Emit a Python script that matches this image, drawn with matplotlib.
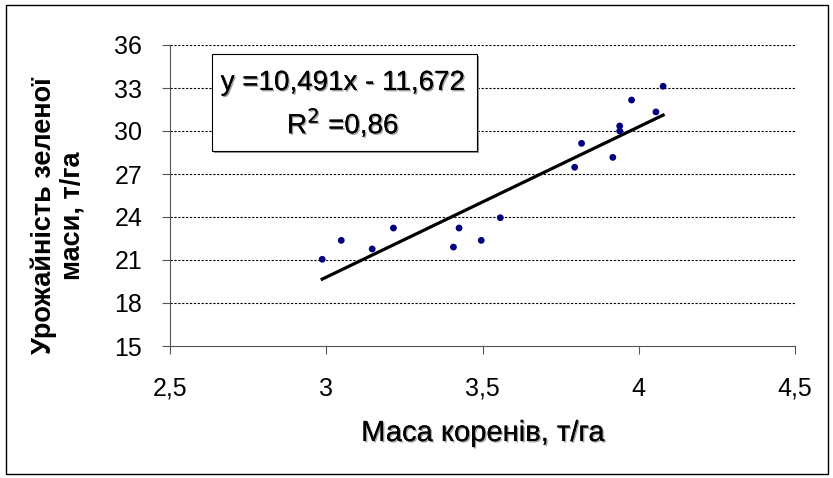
import matplotlib
matplotlib.use("Agg")
import matplotlib.pyplot as plt
from matplotlib import font_manager
from matplotlib.patches import Rectangle
import matplotlib.patheffects as pe
import numpy as np

names = {f.name for f in font_manager.fontManager.ttflist}
narrow = 'Liberation Sans Narrow' if 'Liberation Sans Narrow' in names else 'Liberation Sans'

root_mass = [2.987, 3.048, 3.147, 3.215, 3.407, 3.425, 3.496, 3.557,
             3.795, 3.817, 3.917, 3.939, 3.939, 3.977, 4.055, 4.078]
green_yield = [21.05, 22.37, 21.77, 23.23, 21.90, 23.23, 22.37, 23.95,
               27.47, 29.14, 28.16, 30.35, 30.00, 32.16, 31.33, 33.12]
slope, intercept = 10.491, -11.672
xticks = [2.5, 3, 3.5, 4, 4.5]
xticklabels = ['2,5', '3', '3,5', '4', '4,5']
yticks = [15, 18, 21, 24, 27, 30, 33, 36]

fig = plt.figure(figsize=(8.33, 4.78), dpi=100)
ax = fig.add_axes([170/833, 1-346/478, 625/833, 301/478])

ax.set_xlim(2.5, 4.5)
ax.set_ylim(15, 36)
for y in yticks[1:]:
    ax.axhline(y, color='black', lw=0.8, ls=(0, (2, 1.5)), zorder=1)

ax.scatter(root_mass, green_yield, s=24, color='#000080', zorder=3, edgecolors='none')
xl = np.array([min(root_mass), max(root_mass)])
ax.plot(xl, slope*xl + intercept, color='black', lw=2.3, zorder=2)

ax.set_xticks(xticks)
ax.set_xticklabels(xticklabels)
ax.set_yticks(yticks)
for s in ['top', 'right']:
    ax.spines[s].set_visible(False)
ax.spines['left'].set_color('#555555')
ax.spines['bottom'].set_color('#555555')
ax.tick_params(axis='both', direction='out', length=6, color='#555555', labelsize=18)
ax.tick_params(axis='x', pad=16)
ax.tick_params(axis='y', pad=14)
for lab in ax.get_xticklabels() + ax.get_yticklabels():
    lab.set_family(narrow)

shadow = [pe.withSimplePatchShadow(offset=(1, -1), shadow_rgbFace='#888888', alpha=0.8), pe.Normal()]

fig.text(483/833, 1-433/478, 'Маса коренів, т/га', ha='center', va='center',
         fontsize=21, family=narrow, path_effects=shadow)
fig.text(58/833, 1-216/478, 'Урожайність зеленої\nмаси, т/га', rotation=90, ha='center', va='center',
         fontsize=19.5, fontweight='bold', family='Liberation Sans', linespacing=1.1)

# equation box
fig.patches.append(Rectangle((214/833, 1-153/478), 265/833, 97/478, transform=fig.transFigure,
                             facecolor='#999999', edgecolor='none', zorder=3))
fig.patches.append(Rectangle((212/833, 1-151/478), 265/833, 97/478, transform=fig.transFigure,
                             facecolor='white', edgecolor='black', lw=0.8, zorder=4))
fig.text(343/833, 1-83/478, 'y =10,491x - 11,672', ha='center', va='center', fontsize=20,
         family='Liberation Sans', path_effects=shadow, zorder=5)
fig.text(343/833, 1-123/478, 'R$^2$ =0,86', ha='center', va='center', fontsize=20,
         family='Liberation Sans', path_effects=shadow, zorder=5)

# outer frame
fig.patches.append(Rectangle((6/833, 4/478), 822/833, 469/478, transform=fig.transFigure,
                             facecolor='none', edgecolor='black', lw=1.0))

fig.savefig('out.png', dpi=100)
